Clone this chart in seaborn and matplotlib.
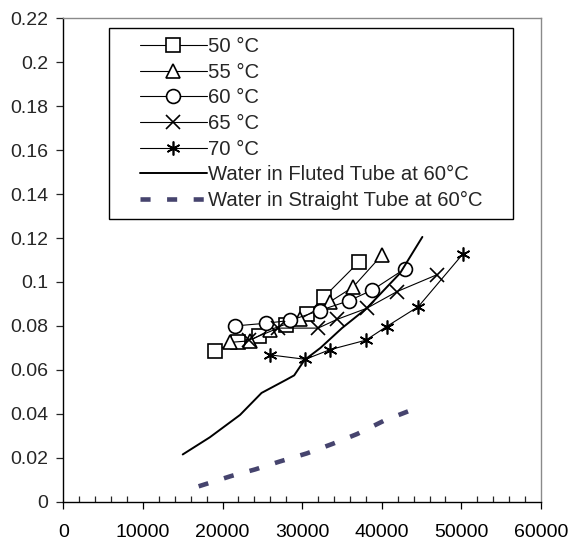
import matplotlib
matplotlib.use("Agg")
import matplotlib.pyplot as plt
import seaborn as sns
import numpy as np
from matplotlib.ticker import MultipleLocator, FuncFormatter
from matplotlib.patches import Rectangle

sns.set_style("ticks")
plt.rcParams['font.family'] = ['Liberation Sans', 'DejaVu Sans']

# ---- data ----
x50 = [19000, 22000, 24600, 28000, 30600, 32700, 37100]
y50 = [0.0688, 0.0728, 0.0752, 0.0802, 0.0852, 0.0930, 0.1090]

x55 = [20900, 23400, 26000, 29700, 33500, 36400, 40000]
y55 = [0.0725, 0.0732, 0.0783, 0.0830, 0.0910, 0.0977, 0.1122]

x60 = [21600, 25400, 28500, 32200, 35900, 38800, 42900]
y60 = [0.0800, 0.0812, 0.0825, 0.0870, 0.0915, 0.0963, 0.1060]

x65 = [23300, 27000, 32000, 34400, 38100, 41900, 47000]
y65 = [0.0735, 0.0790, 0.0790, 0.0830, 0.0880, 0.0956, 0.1034]

x70 = [26000, 30400, 33500, 38000, 40600, 44600, 50200]
y70 = [0.0668, 0.0648, 0.0692, 0.0735, 0.0797, 0.0888, 0.1128]

x_fluted = [15000, 18400, 22200, 24900, 28000, 29000, 30300, 32300, 35000, 38100, 42300, 45100]
y_fluted = [0.0215, 0.0293, 0.0395, 0.0495, 0.0555, 0.0575, 0.0645, 0.0700, 0.0790, 0.0880, 0.1040, 0.1205]

x_straight = [17000, 21100, 24100, 27100, 30600, 33800, 36900, 40300, 44500]
y_straight = [0.0070, 0.0117, 0.0147, 0.0182, 0.0220, 0.0263, 0.0308, 0.0369, 0.0428]

labels = ["50 \u00b0C", "55 \u00b0C", "60 \u00b0C", "65 \u00b0C", "70 \u00b0C",
          "Water in Fluted Tube at 60\u00b0C", "Water in Straight Tube at 60\u00b0C"]

x_ticks = [0, 10000, 20000, 30000, 40000, 50000, 60000]
y_ticks = [0, 0.02, 0.04, 0.06, 0.08, 0.1, 0.12, 0.14, 0.16, 0.18, 0.2, 0.22]

W, H = 571, 542
fig = plt.figure(figsize=(W / 100, H / 100), dpi=100)
ax = fig.add_axes([63.3 / W, 40.3 / H, 477.7 / W, 483.4 / H])

series = [(x50, y50, 's'), (x55, y55, '^'), (x60, y60, 'o'),
          (x65, y65, 'x'), (x70, y70, (6, 2, 0))]
for (xs, ys, mk), lab in zip(series, labels[:5]):
    hollow = mk in ('s', '^', 'o')
    sns.lineplot(x=xs, y=ys, ax=ax, sort=False, estimator=None, color='black',
                 linewidth=0.8, marker=mk, markersize=10 if mk != 'x' else 10.5,
                 markerfacecolor='white' if hollow else 'black',
                 markeredgecolor='black', markeredgewidth=1.2, label=lab)

sns.lineplot(x=x_fluted, y=y_fluted, ax=ax, sort=False, estimator=None,
             color='black', linewidth=1.4, label=labels[5])
sns.lineplot(x=x_straight, y=y_straight, ax=ax, sort=False, estimator=None,
             color='#46446e', linewidth=3.3, label=labels[6])
ax.lines[-1].set_dashes((2.2, 3.6))
ax.lines[-1].set_dash_capstyle('butt')

ax.set_xlim(0, 60000)
ax.set_ylim(0, 0.22)
ax.set_xticks(x_ticks)
ax.set_yticks(y_ticks)
ax.xaxis.set_minor_locator(MultipleLocator(2000))
ax.xaxis.set_major_formatter(FuncFormatter(lambda v, p: f"{int(v)}"))
ax.yaxis.set_major_formatter(FuncFormatter(
    lambda v, p: f"{v:.2f}".rstrip('0').rstrip('.') if v != 0 else "0"))

ax.tick_params(axis='x', which='major', direction='out', length=5, width=0.9,
               pad=11, labelsize=14, colors='black')
ax.tick_params(axis='x', which='minor', direction='in', length=4, width=0.9)
ax.tick_params(axis='y', which='major', direction='out', length=5, width=0.9,
               pad=6, labelsize=14)

for s in ['left', 'bottom']:
    ax.spines[s].set_color('black')
    ax.spines[s].set_linewidth(1.0)
for s in ['top', 'right']:
    ax.spines[s].set_visible(True)
    ax.spines[s].set_color('#8a8a8a')
    ax.spines[s].set_linewidth(1.0)

# legend (frameless) with a separate box drawn around it
leg = ax.legend(loc='upper left', bbox_to_anchor=(140 / W, 1 - 37 / H),
                bbox_transform=fig.transFigure, borderaxespad=0, borderpad=0,
                fontsize=14.6, frameon=False, handlelength=3.3,
                handletextpad=0.05, labelspacing=0.33)
box = Rectangle((109.3 / W, 1 - 219.3 / H), (512.7 - 109.3) / W, (219.3 - 28.3) / H,
                transform=fig.transFigure, facecolor='white', edgecolor='black',
                linewidth=1.0, zorder=4)
ax.add_patch(box)
box.set_clip_on(False)
leg.set_zorder(5)

fig.savefig("out.png", dpi=100)
